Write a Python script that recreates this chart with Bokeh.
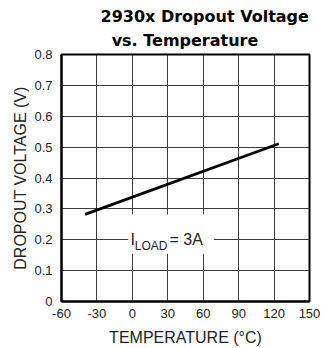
from bokeh.plotting import figure
from bokeh.models import FixedTicker, Label, BoxAnnotation
from bokeh.embed import file_html
from bokeh.resources import INLINE

# data
temperature = [-40, 124]
dropout_v = [0.282, 0.511]
x_ticks = [-60, -30, 0, 30, 60, 90, 120, 150]
y_ticks = [0, 0.1, 0.2, 0.3, 0.4, 0.5, 0.6, 0.7, 0.8]
title_line1 = "2930x Dropout Voltage"
title_line2 = "vs. Temperature"
x_label = "TEMPERATURE (°C)"
y_label = "DROPOUT VOLTAGE (V)"

FONT = "Liberation Sans"

p = figure(width=323, height=348, output_backend="svg", toolbar_location=None,
           x_range=(-60, 150), y_range=(0, 0.8),
           min_border_left=61, min_border_right=14, min_border_top=54, min_border_bottom=47)
p.background_fill_color = "white"
p.border_fill_color = "white"
p.outline_line_color = "black"
p.outline_line_width = 2

p.xaxis.ticker = FixedTicker(ticks=x_ticks)
p.yaxis.ticker = FixedTicker(ticks=y_ticks)
p.yaxis.major_label_overrides = {0: "0"}
p.xaxis.major_label_overrides = {-60: "-60", -30: "-30"}
for ax in (p.xaxis, p.yaxis):
    ax.major_tick_out = 0
    ax.major_tick_in = 0
    ax.minor_tick_out = 0
    ax.minor_tick_in = 0
    ax.axis_line_color = "black"
    ax.axis_line_width = 2
    ax.major_label_text_font = FONT
    ax.major_label_text_font_size = "13px"
    ax.major_label_text_color = "#222222"
    ax.axis_label_text_font = FONT
    ax.axis_label_text_font_size = "16px"
    ax.axis_label_text_font_style = "normal"
    ax.axis_label_text_color = "#222222"
p.xaxis.axis_label = x_label
p.yaxis.axis_label = y_label
p.xaxis.major_label_standoff = 7
p.xaxis.axis_label_standoff = 8
p.yaxis.major_label_standoff = 9
p.yaxis.axis_label_standoff = 2

p.xgrid.ticker = FixedTicker(ticks=x_ticks)
p.ygrid.ticker = FixedTicker(ticks=y_ticks)
p.grid.grid_line_color = "#3c3c3c"
p.grid.grid_line_width = 1
p.grid.grid_line_alpha = 1

p.line(temperature, dropout_v, line_color="black", line_width=2.8)

# label background box
p.add_layout(BoxAnnotation(left=-3.5, right=69, bottom=0.155, top=0.282,
                           fill_color="white", fill_alpha=1, line_alpha=0))
p.add_layout(Label(x=-1.5, y=0.2, text="I", text_font=FONT, text_font_size="16px",
                   text_color="#222222", text_baseline="alphabetic"))
p.add_layout(Label(x=2.0, y=0.181, text="LOAD", text_font=FONT, text_font_size="12px",
                   text_color="#222222", text_baseline="alphabetic"))
p.add_layout(Label(x=31.5, y=0.2, text="= 3A", text_font=FONT, text_font_size="16px",
                   text_color="#222222", text_baseline="alphabetic"))

# two-line title
p.title.text = title_line1 + "\n\u00a0\u00a0" + title_line2
p.title.align = "left"
p.title.offset = 39
p.title.text_font = "DejaVu Sans"
p.title.text_font_size = "16px"
p.title.text_font_style = "bold"
p.title.text_color = "black"
p.title.text_line_height = 1.25
p.title.standoff = 9

open("out.html", "w").write(file_html(p, INLINE))
